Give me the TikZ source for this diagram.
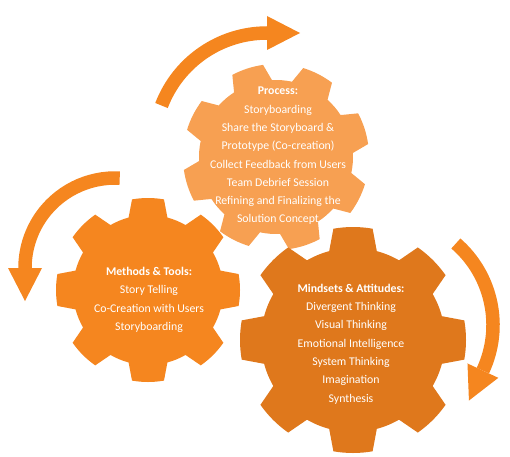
\documentclass[tikz,border=0pt]{standalone}
\usepackage{fontspec}
\setmainfont{Carlito}
\usepackage{xcolor}
\usepackage{tikz}
\usetikzlibrary{calc}

\definecolor{gearlight}{HTML}{F7A052}
\definecolor{gearmid}{HTML}{F5861F}
\definecolor{geardark}{HTML}{DF781C}
\definecolor{cyclearrow}{HTML}{F5861F}

% gear: centre, outer radius, root radius, rotation, colour
\newcommand\drawgear[5]{%
  \fill[#5, shift={#1}] ({#4-15}:#3)
    \foreach \k in {0,...,7}{
      -- ({#4+45*\k-10}:#2) arc[start angle={#4+45*\k-10}, end angle={#4+45*\k+10}, radius=#2]
      -- ({#4+45*\k+15}:#3) arc[start angle={#4+45*\k+15}, end angle={#4+45*\k+30}, radius=#3]
    } -- cycle;}

% curved arrow: centre, radius, start angle, end angle, turn (+90 ccw, -90 cw)
\newcommand\drawcycle[5]{%
  \draw[cyclearrow, line width=13.5pt] ($#1+(#3:#2)$) arc[start angle=#3, end angle=#4, radius=#2];
  \fill[cyclearrow] ($#1+({#4}:{#2-17})$) -- ($#1+({#4}:{#2+17})$)
    -- ($#1+({#4}:#2)+({#4+#5}:33)$) -- cycle;}

\begin{document}
\begin{tikzpicture}[x=1pt, y=1pt,
    geartext/.style={text=white, align=center, font=\fontsize{11.8}{18.3}\selectfont}
]
\useasboundingbox (0,0) rectangle (510,456);

% gears
\drawgear{(276,299)}{93}{77}{18}{gearlight}
\drawgear{(148,166)}{92}{75}{0}{gearmid}
\drawgear{(353,116)}{113}{92}{0}{geardark}

% arrows round the gears
\coordinate (tophub) at (267,310);
\coordinate (lefthub) at (115,188);
\coordinate (righthub) at (385,131);
\drawcycle{(tophub)}{113}{159}{90}{-90}
\drawcycle{(lefthub)}{90}{87}{180}{90}
\drawcycle{(righthub)}{108}{49}{-25}{-90}

% texts
\node[geartext] (process) at (278,300) {\textbf{Process:}\\Storyboarding\\Share the Storyboard \&\\Prototype (Co-creation)\\Collect Feedback from Users\\Team Debrief Session\\Refining and Finalizing the\\Solution Concept};
\node[geartext] (methods) at (149,156) {\textbf{Methods \& Tools:}\\Story Telling\\Co-Creation with Users\\Storyboarding};
\node[geartext] (mindsets) at (351,112) {\textbf{Mindsets \& Attitudes:}\\Divergent Thinking\\Visual Thinking\\Emotional Intelligence\\System Thinking\\Imagination\\Synthesis};
\end{tikzpicture}
\end{document}
